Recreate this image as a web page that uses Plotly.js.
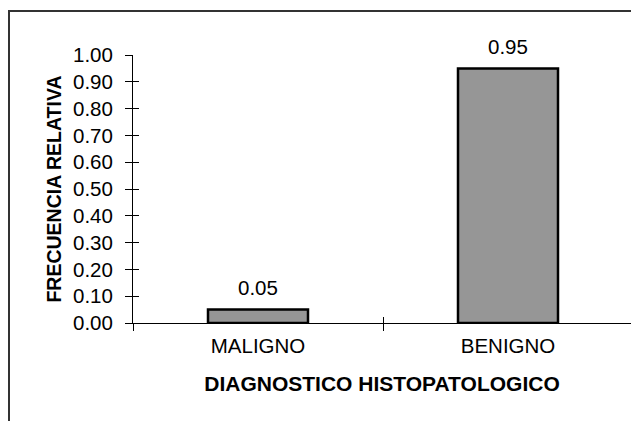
<!DOCTYPE html>
<html><head><meta charset="utf-8">
<script src="https://cdn.plot.ly/plotly-3.0.1.min.js"></script>
<style>html,body{margin:0;padding:0;background:#fff;}#wrap{position:relative;width:631px;height:421px;overflow:hidden;}#frame{position:absolute;left:8px;top:10px;width:640px;height:430px;border-left:2px solid #333;border-top:2px solid #333;pointer-events:none;}</style>
</head><body>
<div id="wrap"><div id="chart" style="width:631px;height:421px;"></div><div id="frame"></div></div>
<script>
const categories = ["MALIGNO", "BENIGNO"];
const values = [0.05, 0.95];
const valueLabels = ["0.05", "0.95"];
const yTicks = [0, 0.1, 0.2, 0.3, 0.4, 0.5, 0.6, 0.7, 0.8, 0.9, 1.0];
const yTickLabels = ["0.00","0.10","0.20","0.30","0.40","0.50","0.60","0.70","0.80","0.90","1.00"];
const xTitle = "DIAGNOSTICO HISTOPATOLOGICO";
const yTitle = "FRECUENCIA RELATIVA";

const font = "Arial, 'Liberation Sans', sans-serif";
const trace = {
  type: "bar", x: categories, y: values,
  marker: {color: "#969696", line: {color: "#000", width: 2.5}},
  hoverinfo: "none", showlegend: false
};
const annotations = categories.map((c, i) => ({
  x: c, y: values[i], xref: "x", yref: "y", text: valueLabels[i],
  showarrow: false, yanchor: "middle", yshift: 22,
  font: {family: font, size: 20.5, color: "#000"}
}));
const layout = {
  width: 631, height: 421,
  margin: {l: 133, r: 0, t: 55, b: 98},
  paper_bgcolor: "#fff", plot_bgcolor: "#fff",
  bargap: 0.6,
  font: {family: font, color: "#000"},
  xaxis: {
    type: "category", categoryarray: categories, range: [-0.5, 1.492],
    showline: true, linecolor: "#000", linewidth: 1,
    ticks: "outside", ticklen: 7, tickcolor: "#000", tickson: "boundaries",
    showgrid: false, zeroline: false, ticklabelstandoff: 4,
    tickfont: {family: font, size: 20.5, color: "#000"},
    title: {text: "<b>" + xTitle + "</b>", font: {family: font, size: 21, color: "#000"}, standoff: 20}
  },
  yaxis: {
    range: [0, 1], tickvals: yTicks, ticktext: yTickLabels,
    showline: true, linecolor: "#000", linewidth: 1,
    ticks: "outside", ticklen: 7, tickcolor: "#000",
    showgrid: false, zeroline: false, ticklabelstandoff: 8,
    tickfont: {family: font, size: 20.5, color: "#000"},
    title: {text: "<b>" + yTitle + "</b>", font: {family: font, size: 19.5, color: "#000"}, standoff: 6}
  },
  xaxis2: {overlaying: "x", range: [-0.5, 1.492], tickvals: [0.5], ticks: "inside", ticklen: 6,
    tickcolor: "#000", showticklabels: false, showgrid: false, zeroline: false, showline: false, side: "bottom"},
  yaxis2: {overlaying: "y", range: [0, 1], tickvals: yTicks, ticks: "inside", ticklen: 6,
    tickcolor: "#000", showticklabels: false, showgrid: false, zeroline: false, showline: false, side: "left"},
  annotations: annotations
};
const helper = {type: "scatter", x: [0.5], y: [0], xaxis: "x2", yaxis: "y2", mode: "none", hoverinfo: "none", showlegend: false};
Plotly.newPlot("chart", [trace, helper], layout, {staticPlot: true, displayModeBar: false});
</script>
</body></html>
